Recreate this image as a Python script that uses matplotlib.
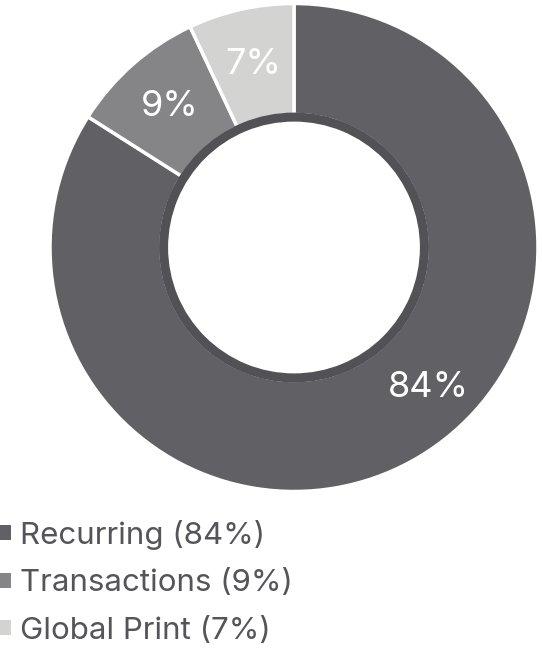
import numpy as np
import matplotlib.pyplot as plt

plt.rcParams['font.family'] = ['Inter', 'DejaVu Sans']

labels = ['Recurring', 'Transactions', 'Global Print']
shares = [84, 9, 7]
colors = ['#616064', '#858487', '#d3d3d1']
ring_color = '#525155'
text_color = '#555459'

fig = plt.figure(figsize=(5.42, 6.5), dpi=100)
ax = fig.add_axes([50 / 542, 158.5 / 650, 488 / 542, 488 / 650])

wedges, texts, autotexts = ax.pie(
    shares,
    colors=colors,
    startangle=90,
    counterclock=False,
    radius=1.0,
    autopct=lambda p: f'{p:.0f}%',
    pctdistance=0.77,
    wedgeprops=dict(width=1 - 0.545, edgecolor='white', linewidth=2.5),
    textprops=dict(color='white', fontsize=26),
)

# thin darker ring around the hole, drawn over the inner wedge edges
ring, _ = ax.pie([1], colors=[ring_color], radius=0.553, startangle=90,
                 wedgeprops=dict(width=0.553 - 0.516, edgecolor='none'))
for w in ring:
    w.set_zorder(3)

# the big slice label sits lower-right rather than at the slice middle
ang = np.deg2rad(-46)
autotexts[0].set_position((0.795 * np.cos(ang), 0.795 * np.sin(ang)))

ax.set_xlim(-1, 1)
ax.set_ylim(-1, 1)
ax.set_aspect('equal')
ax.axis('off')

leg_labels = [f'{l} ({s}%)' for l, s in zip(labels, shares)]
leg = fig.legend(
    wedges, leg_labels,
    loc='upper left',
    bbox_to_anchor=(0.0, 1 - 520 / 650),
    frameon=False,
    fontsize=22.5,
    handlelength=0.35,
    handleheight=0.35,
    handletextpad=0.3,
    labelspacing=0.62,
    borderpad=0,
    borderaxespad=0,
)
for t in leg.get_texts():
    t.set_color(text_color)
for h in leg.legend_handles:
    h.set_edgecolor('none')

fig.savefig('out.png', dpi=100)
